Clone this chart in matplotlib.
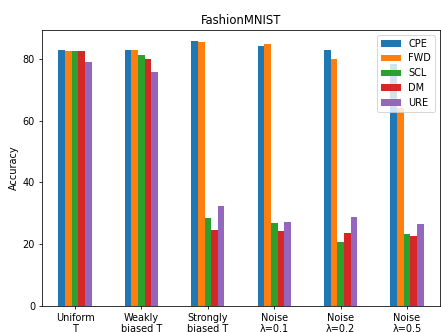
import pandas as pd
import matplotlib.pyplot as plt

# 설정별 정확도
settings = ['Uniform\nT', 'Weakly\nbiased T', 'Strongly\nbiased T',
            'Noise\nλ=0.1', 'Noise\nλ=0.2', 'Noise\nλ=0.5']
cpe = [82.9, 82.9, 85.9, 84.2, 82.9, 78.4]
fwd = [82.5, 82.9, 85.5, 84.8, 80.1, 64.0]
scl = [82.5, 81.2, 28.4, 26.8, 20.7, 23.2]
dm = [82.5, 80.2, 24.7, 24.2, 23.7, 22.7]
ure = [79.2, 75.7, 32.5, 27.3, 28.7, 26.6]

df = pd.DataFrame({'CPE': cpe, 'FWD': fwd, 'SCL': scl, 'DM': dm, 'URE': ure},
                  index=settings)

fig = plt.figure(figsize=(6.3, 4.743), dpi=70)
ax = fig.add_axes([0.095, 0.079, 0.903, 0.831])
df.plot.bar(ax=ax, rot=0)

ax.set_ylim(0, 89.5)
ax.set_xlim(-0.5, 5.5)
ax.set_yticks([0, 20, 40, 60, 80])
ax.set_title('FashionMNIST')
ax.set_ylabel('Accuracy')
ax.legend(loc='upper right')

fig.savefig('out.png', dpi=70)
